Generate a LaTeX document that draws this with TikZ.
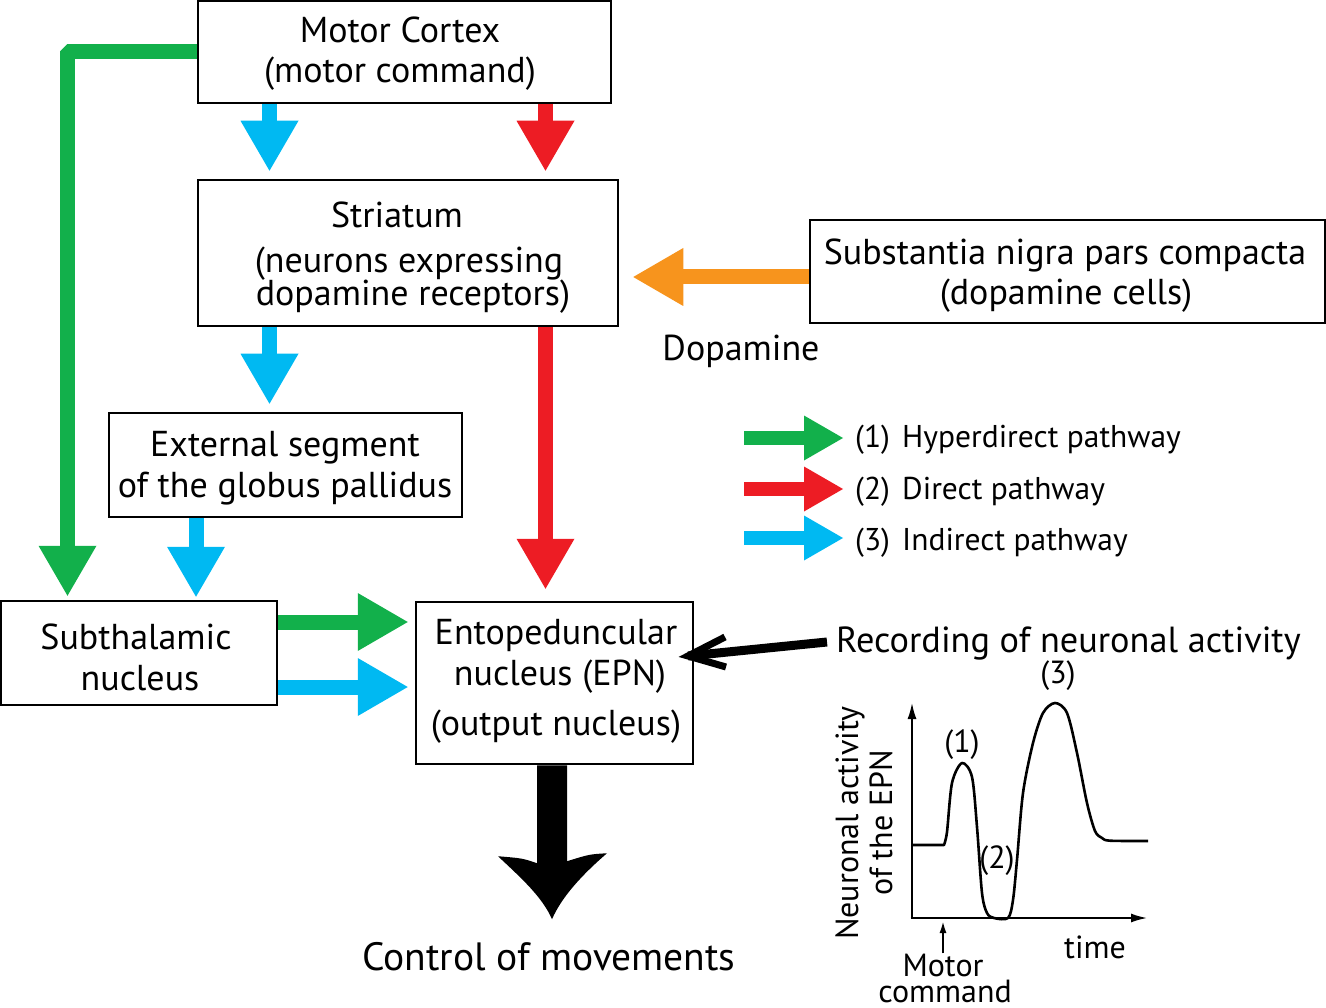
\documentclass[tikz,border=0pt]{standalone}
\usepackage{fontspec}
\setmainfont{PT Sans}
\usetikzlibrary{arrows.meta,calc}
\definecolor{cgreen}{RGB}{18,176,75}
\definecolor{cred}{RGB}{237,28,36}
\definecolor{cblue}{RGB}{0,185,242}
\definecolor{corange}{RGB}{247,148,29}
\tikzset{
 box/.style={draw, line width=2.5pt, inner sep=0pt},
 mtxt/.style={font=\fontsize{36}{40}\selectfont, inner sep=0pt, anchor=base},
 ltxt/.style={font=\fontsize{31.5}{34}\selectfont, inner sep=0pt, anchor=base west},
 gtxt/.style={font=\fontsize{32}{34}\selectfont, inner sep=0pt},
 fat/.style={line width=15pt, -{Triangle[width=58pt,length=50pt,line width=0pt]}},
 legarrow/.style={line width=14pt, -{Triangle[width=45pt,length=39pt,line width=0pt]}},
 axis/.style={line width=2.6pt, -{Latex[length=17pt,width=9pt]}},
 curve/.style={line width=2.6pt, line join=round},
}
\begin{document}
\begin{tikzpicture}[x=1pt,y=-1pt]
\useasboundingbox (0,0) rectangle (1326,1008);
% boxes
\node[box, minimum width=413pt, minimum height=102pt] (mc) at (404.5,52) {};
\node[box, minimum width=420pt, minimum height=146pt] (str) at (408,253) {};
\node[box, minimum width=353pt, minimum height=104pt] (gpe) at (285.5,465) {};
\node[box, minimum width=276pt, minimum height=104pt] (stn) at (139,653) {};
\node[box, minimum width=277pt, minimum height=162pt] (epn) at (554.5,683) {};
\node[box, minimum width=515pt, minimum height=103pt] (snc) at (1067.5,271.5) {};
% texts in boxes
\node[mtxt] (mc1) at (400,43) {Motor Cortex};
\node[mtxt] (mc2) at (400,83) {(motor command)};
\node[mtxt] (st1) at (397,228) {Striatum};
\node[mtxt, text depth=0pt] (st2) at (409,273) {(neurons expressing};
\node[mtxt, text height=20pt] (st3) at (413,306) {dopamine receptors)};
\node[mtxt] (gp1) at (285,456) {External segment};
\node[mtxt] (gp2) at (285,497) {of the globus pallidus};
\node[mtxt] (sn1) at (136,649) {Subthalamic};
\node[mtxt] (sn2) at (140,690) {nucleus};
\node[mtxt] (ep1) at (556,644) {Entopeduncular};
\node[mtxt] (ep2) at (560,685) {nucleus (EPN)};
\node[mtxt] (ep3) at (556,735) {(output nucleus)};
\node[mtxt] (sc1) at (1065,265) {Substantia nigra pars compacta};
\node[mtxt] (sc2) at (1066,305) {(dopamine cells)};
\node[mtxt] (dop) at (741,361) {Dopamine};
\node[mtxt, font=\fontsize{39.5}{42}\selectfont] (ctl) at (549,970) {Control of movements};
% columns and rows
\coordinate (cB1) at (269.5,0);
\coordinate (cR) at (545.5,0);
\coordinate (cB2) at (196,0);
\coordinate (cG) at (67.5,0);
\coordinate (rG) at (0,622);
\coordinate (rB) at (0,687);
\coordinate (rO) at (0,277);
% pathway arrows
\draw[fat,cblue,shorten >=8pt] (mc.south -| cB1) -- (str.north -| cB1);
\draw[fat,cred,shorten >=8pt] (mc.south -| cR) -- (str.north -| cR);
\draw[fat,cblue,shorten >=8pt] (str.south -| cB1) -- (gpe.north -| cB1);
\draw[fat,cred,shorten >=12pt] (str.south -| cR) -- (epn.north -| cR);
\draw[fat,cblue,shorten >=3pt] (gpe.south -| cB2) -- (stn.north -| cB2);
\draw[fat,cgreen,line join=bevel,shorten >=4pt] (mc.west) -- (mc.west -| cG) -- (stn.north -| cG);
\draw[fat,cgreen,shorten >=7pt] (stn.east |- rG) -- (epn.west |- rG);
\draw[fat,cblue,shorten >=7pt] (stn.east |- rB) -- (epn.west |- rB);
\draw[fat,corange,shorten >=14pt] (snc.west |- rO) -- (str.east |- rO);
% output arrow
\begin{scope}[shift={(epn.south)}]
\fill (-17.5,0) -- (-17.5,98) .. controls (-32,93) .. (-56.5,91)
  .. controls (-33,113) and (-12,132) .. (-2.5,154)
  .. controls (7,132) and (27,110) .. (52.5,88)
  .. controls (35,89) .. (12.5,96) -- (12.5,0) -- cycle;
\end{scope}
% legend
\coordinate (l1s) at (744,438); \coordinate (l1e) at (843,438);
\coordinate (l2s) at (744,489); \coordinate (l2e) at (843,489);
\coordinate (l3s) at (744,538); \coordinate (l3e) at (843,538);
\draw[legarrow,cgreen] (l1s) -- (l1e);
\draw[legarrow,cred] (l2s) -- (l2e);
\draw[legarrow,cblue] (l3s) -- (l3e);
\node[ltxt] (n1) at (855,447) {(1)};
\node[ltxt] (t1) at (902,447) {Hyperdirect pathway};
\node[ltxt] (n2) at (855,499) {(2)};
\node[ltxt] (t2) at (902,499) {Direct pathway};
\node[ltxt] (n3) at (855,550) {(3)};
\node[ltxt] (t3) at (902,550) {Indirect pathway};
% recording
\node[mtxt, anchor=base west, font=\fontsize{36.3}{38}\selectfont] (rec) at (836,652) {Recording of neuronal activity};
\coordinate (rstart) at (827,642);
\coordinate (rtip) at (688,656);
\draw[line width=9pt] (rstart) -- (rtip);
\draw[line width=7pt, line join=miter, miter limit=10] (725,637) -- (rtip) -- (726,667);
% graph
\coordinate (O) at (912,918);
\coordinate (yT) at (912,702);
\coordinate (xT) at (1148,918);
\draw[axis] (O) -- (yT);
\draw[axis] ([xshift=-1.3pt]O) -- (xT);
\draw[curve] (912,845) -- plot[smooth, tension=0.5] coordinates {(944,845) (947,832) (952,783) (962,763) (972,777) (977,827) (982,893) (987,913) (994,918) (1008,918) (1013,900) (1017,860) (1023,793) (1033,743) (1043,713) (1055,703) (1067,713) (1077,753) (1087,803) (1095,831) (1102,838) (1110,840.7) (1148,841)};
\node[gtxt] (p1) at (962,745) {(1)};
\node[gtxt] (p2) at (997,861) {(2)};
\node[gtxt] (p3) at (1058,676) {(3)};
\node[gtxt, rotate=90, align=center] (ylab) at (864,823) {Neuronal activity\\of the EPN};
\node[gtxt] (tm) at (1095,947) {time};
\node[gtxt, anchor=base, text depth=0pt] (mot) at (943,976) {Motor};
\node[gtxt, anchor=base, text depth=0pt, text height=22pt] (cmd) at (945,1002) {command};
\coordinate (mtip) at (943,921);
\draw[line width=2pt, -{Latex[length=12pt,width=7pt]}] (mot.north) -- (mtip);
\end{tikzpicture}
\end{document}
